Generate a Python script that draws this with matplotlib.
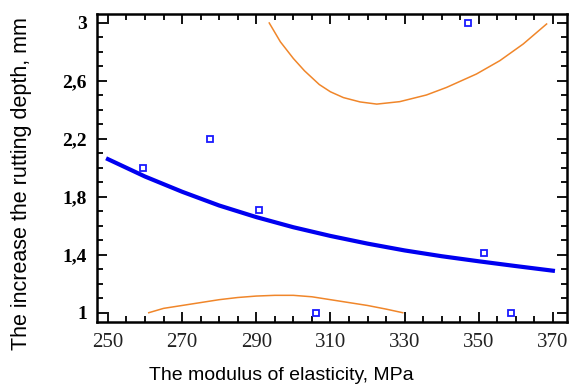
import numpy as np
import matplotlib
matplotlib.use('Agg')
import matplotlib.pyplot as plt
from matplotlib.ticker import MultipleLocator

# observed points
obs_x = [259.5, 277.5, 290.8, 306.0, 347.0, 351.4, 358.7]
obs_y = [2.00, 2.20, 1.71, 1.00, 3.00, 1.41, 1.00]

# fitted curve
fit_x = [250, 260, 270, 280, 290, 300, 310, 320, 330, 340, 350, 360, 370]
fit_y = [2.06, 1.94, 1.835, 1.74, 1.66, 1.59, 1.53, 1.477, 1.43, 1.39, 1.355, 1.322, 1.29]

# upper limit curve
up_x = [293.5, 296.5, 300, 303, 307, 310, 313.5, 318, 322.5, 328.7, 335.9, 341.3, 349.4, 355.7, 362, 368.3]
up_y = [3.0, 2.87, 2.755, 2.67, 2.575, 2.525, 2.485, 2.455, 2.44, 2.457, 2.503, 2.555, 2.648, 2.74, 2.855, 2.993]

# lower limit curve
lo_x = [261, 265, 270, 275, 280, 285, 290, 295, 300, 305, 310, 315, 320, 325, 329.5]
lo_y = [1.0, 1.03, 1.05, 1.07, 1.09, 1.105, 1.115, 1.12, 1.12, 1.11, 1.09, 1.07, 1.05, 1.025, 1.0]

x_ticks = [250, 270, 290, 310, 330, 350, 370]
y_ticks = [1, 1.4, 1.8, 2.2, 2.6, 3]
y_ticklabels = ['1', '1,4', '1,8', '2,2', '2,6', '3']

fig = plt.figure(figsize=(5.73, 3.92), dpi=100)
ax = fig.add_axes([0.169, 0.1786, 0.8205, 0.7857])

orange = '#f0862a'
ax.plot(up_x, up_y, color=orange, lw=1.1)
ax.plot(lo_x, lo_y, color=orange, lw=1.1)
ax.plot(fit_x, fit_y, color='#0000f0', lw=3)
ax.plot(obs_x, obs_y, ls='none', marker='s', ms=4.3, mfc='white',
        mec='#1a1aff', mew=1.3)

ax.set_xlim(247, 373.8)
ax.set_ylim(0.936, 3.062)

ax.set_xticks(x_ticks)
ax.set_yticks(y_ticks)
ax.set_yticklabels(y_ticklabels)
ax.xaxis.set_minor_locator(MultipleLocator(5))
ax.yaxis.set_minor_locator(MultipleLocator(0.1))

ax.tick_params(which='both', direction='in', top=True, right=True, width=1.3, color='black')
ax.tick_params(which='major', length=7)
ax.tick_params(which='minor', length=4)
ax.tick_params(axis='y', pad=7, labelsize=14, labelfontfamily='Liberation Serif')
ax.tick_params(axis='x', pad=8, labelsize=15, labelfontfamily='Liberation Serif',
               labelcolor='#222222')

for lab in ax.get_yticklabels():
    lab.set_fontweight('bold')

for sp in ax.spines.values():
    sp.set_linewidth(1.8)

label_font = ['Liberation Sans Narrow', 'Liberation Sans']
fig.text(0.491, 0.041, 'The modulus of elasticity, MPa', ha='center', va='center',
         fontsize=14, family=label_font)
fig.text(0.038, 0.533, 'The increase the rutting depth, mm', ha='center', va='center',
         rotation=90, fontsize=15.5, family=label_font)

fig.savefig('out.png', dpi=100)
